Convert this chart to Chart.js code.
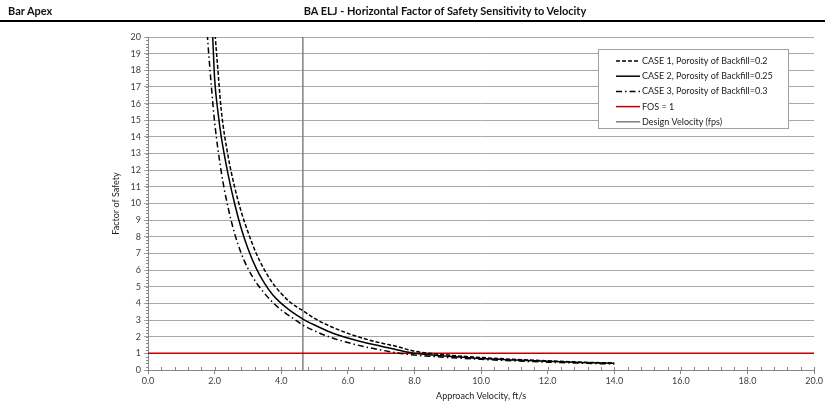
<!DOCTYPE html>
<html>
<head>
<meta charset="utf-8">
<script src="https://cdn.jsdelivr.net/npm/chart.js@4.4.1/dist/chart.umd.min.js"></script>
<style>
  html, body { margin: 0; padding: 0; background: #fff; }
  #wrap { position: relative; width: 825px; height: 409px; font-family: Lato, "Open Sans", sans-serif; color: #111; }
  #hdrLeft { position: absolute; left: 8px; top: 4px; font-size: 11px; font-weight: bold; }
  #hdrTitle { position: absolute; left: 0; width: 890px; top: 4px; font-size: 11px; font-weight: bold; text-align: center; }
  #rule { position: absolute; left: 0; top: 20px; width: 825px; height: 2px; background: #000; }
  #chart { position: absolute; left: 0; top: 0; }
</style>
</head>
<body>
<div id="wrap">
  <canvas id="chart" width="825" height="409"></canvas>
  <div id="hdrLeft">Bar Apex</div>
  <div id="hdrTitle">BA ELJ - Horizontal Factor of Safety Sensitivity to Velocity</div>
  <div id="rule"></div>
</div>
<script>
// 读图估计的数据（速度 ft/s → 安全系数）
const velCase1 = [1.95, 2.0, 2.1, 2.2, 2.4, 2.6, 2.8, 3.0, 3.25, 3.5, 3.75, 4.0, 4.25, 4.5, 4.65, 5.0, 5.5, 6.0, 6.5, 7.0, 7.5, 8.0, 9.0, 10, 11, 12, 13, 14];
const fosCase1 = [23, 20.7, 18.0, 15.6, 12.9, 11.0, 9.5, 8.3, 7.0, 6.0, 5.2, 4.6, 4.1, 3.75, 3.56, 3.1, 2.6, 2.2, 1.88, 1.62, 1.4, 1.13, 0.9, 0.75, 0.64, 0.55, 0.47, 0.42];

const velCase2 = [1.9, 1.95, 2.0, 2.1, 2.2, 2.4, 2.6, 2.8, 3.0, 3.25, 3.5, 3.75, 4.0, 4.25, 4.5, 4.65, 5.0, 5.5, 6.0, 6.5, 7.0, 7.5, 8.0, 9.0, 10, 11, 12, 13, 14];
const fosCase2 = [22, 19.7, 17.5, 15.5, 14.0, 11.8, 10.0, 8.5, 7.3, 6.1, 5.2, 4.5, 4.0, 3.6, 3.25, 3.06, 2.7, 2.25, 1.92, 1.65, 1.43, 1.2, 1.0, 0.82, 0.69, 0.6, 0.52, 0.45, 0.40];

const velCase3 = [1.75, 1.8, 1.9, 2.0, 2.2, 2.4, 2.6, 2.8, 3.0, 3.25, 3.5, 3.75, 4.0, 4.25, 4.5, 4.65, 5.0, 5.5, 6.0, 6.5, 7.0, 7.5, 8.0, 9.0, 10, 11, 12, 13, 14];
const fosCase3 = [21, 19.6, 17.1, 14.9, 11.9, 9.8, 8.2, 7.0, 6.1, 5.25, 4.6, 4.05, 3.6, 3.25, 2.9, 2.7, 2.35, 1.95, 1.65, 1.4, 1.2, 1.02, 0.9, 0.75, 0.64, 0.55, 0.47, 0.41, 0.36];

const fosLimitX = [0, 20];
const fosLimitY = [1, 1];
const designVelX = [4.65, 4.65];
const designVelY = [0, 20];

const xTicks = [0, 2, 4, 6, 8, 10, 12, 14, 16, 18, 20];
const yTicks = [0, 1, 2, 3, 4, 5, 6, 7, 8, 9, 10, 11, 12, 13, 14, 15, 16, 17, 18, 19, 20];

const FONT = 'Lato, "Open Sans", sans-serif';
const toPts = (xs, ys) => xs.map((x, i) => ({ x, y: ys[i] }));

// 次刻度线
const minorTicks = {
  id: 'minorTicks',
  afterDraw(chart) {
    const { ctx, scales: { x, y } } = chart;
    ctx.save();
    ctx.strokeStyle = '#868686';
    ctx.lineWidth = 1;
    ctx.beginPath();
    for (let v = 0; v <= 20.001; v += 0.2) {
      const py = Math.round(y.getPixelForValue(v)) + 0.5;
      ctx.moveTo(x.left - 2, py);
      ctx.lineTo(x.left, py);
    }
    for (let v = 0; v <= 20.001; v += 0.4) {
      const px = Math.round(x.getPixelForValue(v)) + 0.5;
      ctx.moveTo(px, y.bottom);
      ctx.lineTo(px, y.bottom - 3);
    }
    ctx.stroke();
    ctx.restore();
  }
};

// 图内图例
const boxLegend = {
  id: 'boxLegend',
  afterDraw(chart) {
    const { ctx } = chart;
    const left = 598, top = 49, w = 190, h = 79;
    ctx.save();
    ctx.fillStyle = '#fff';
    ctx.fillRect(left, top, w, h);
    ctx.strokeStyle = '#a0a0a0';
    ctx.lineWidth = 1;
    ctx.strokeRect(left + 0.5, top + 0.5, w, h);
    ctx.font = '9px ' + FONT;
    ctx.textBaseline = 'middle';
    chart.data.datasets.forEach((ds, i) => {
      const ry = top + 12 + i * 15.2;
      ctx.beginPath();
      ctx.strokeStyle = ds.borderColor;
      ctx.lineWidth = ds.borderWidth;
      ctx.setLineDash(ds.borderDash || []);
      ctx.moveTo(616, ry);
      ctx.lineTo(640, ry);
      ctx.stroke();
      ctx.setLineDash([]);
      ctx.fillStyle = '#222';
      ctx.fillText(ds.label, 642, ry);
    });
    ctx.restore();
  }
};

new Chart(document.getElementById('chart'), {
  type: 'line',
  data: {
    datasets: [
      { label: 'CASE 1, Porosity of Backfill=0.2', data: toPts(velCase1, fosCase1), borderColor: '#000', borderWidth: 1.5, borderDash: [4, 2], pointRadius: 0, cubicInterpolationMode: 'monotone' },
      { label: 'CASE 2, Porosity of Backfill=0.25', data: toPts(velCase2, fosCase2), borderColor: '#000', borderWidth: 1.5, pointRadius: 0, cubicInterpolationMode: 'monotone' },
      { label: 'CASE 3, Porosity of Backfill=0.3', data: toPts(velCase3, fosCase3), borderColor: '#000', borderWidth: 1.5, borderDash: [6, 3, 1.5, 3], pointRadius: 0, cubicInterpolationMode: 'monotone' },
      { label: 'FOS = 1', data: toPts(fosLimitX, fosLimitY), borderColor: '#c00000', borderWidth: 1.5, pointRadius: 0 },
      { label: 'Design Velocity (fps)', data: toPts(designVelX, designVelY), borderColor: '#808080', borderWidth: 1.5, pointRadius: 0 }
    ]
  },
  options: {
    responsive: false,
    animation: false,
    devicePixelRatio: 1,
    layout: { padding: { left: 0, right: 10, top: 37, bottom: 0 } },
    plugins: { legend: { display: false }, tooltip: { enabled: false } },
    scales: {
      x: {
        type: 'linear', min: 0, max: 20,
        afterBuildTicks: s => { s.ticks = xTicks.map(v => ({ value: v })); },
        afterFit: s => { s.height = 39; },
        ticks: { callback: v => v.toFixed(1), font: { family: FONT, size: 9 }, color: '#404040', padding: 2, maxRotation: 0 },
        grid: { drawOnChartArea: false, tickLength: 4, color: '#868686' },
        border: { color: '#868686' },
        title: { display: true, text: 'Approach Velocity, ft/s', font: { family: FONT, size: 9 }, color: '#222', padding: { top: 0, bottom: 8 } }
      },
      y: {
        type: 'linear', min: 0, max: 20,
        afterBuildTicks: s => { s.ticks = yTicks.map(v => ({ value: v })); },
        afterFit: s => { s.width = 148; },
        ticks: { font: { family: FONT, size: 9 }, color: '#404040', padding: 3 },
        grid: { color: '#a8a8a8', tickLength: 4 },
        border: { color: '#868686' },
        title: { display: true, text: 'Factor of Safety', font: { family: FONT, size: 9 }, color: '#222', padding: { top: 111, bottom: 0 } }
      }
    }
  },
  plugins: [minorTicks, boxLegend]
});
</script>
</body>
</html>
